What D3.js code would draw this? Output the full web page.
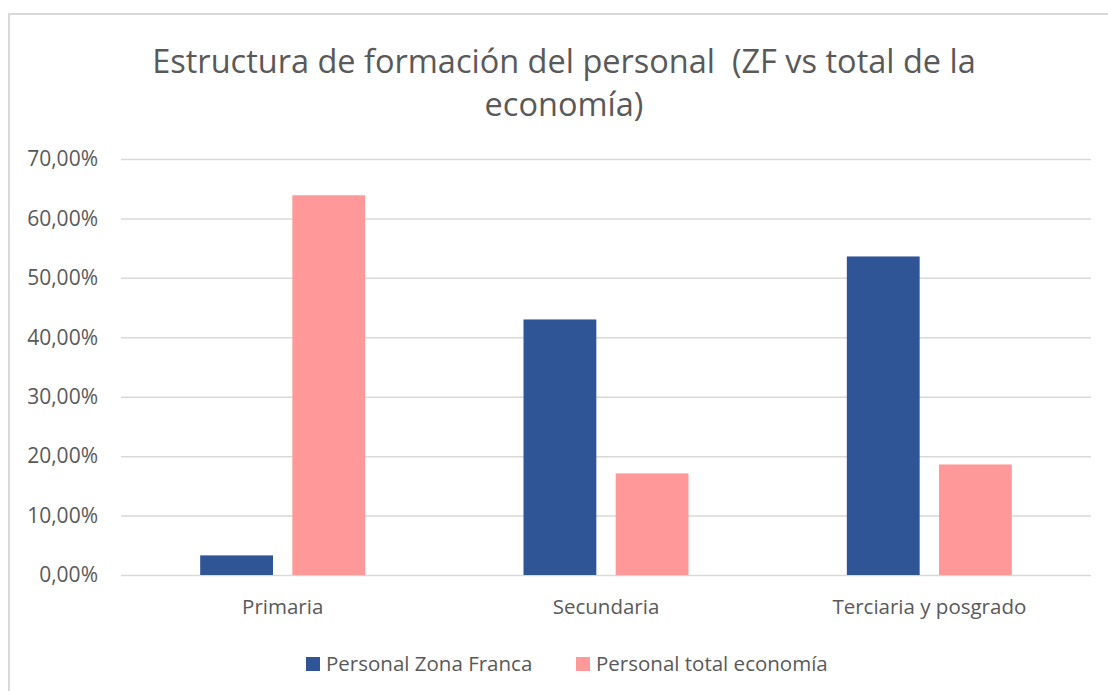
<!DOCTYPE html>
<html>
<head>
<meta charset="utf-8">
<script src="https://cdn.jsdelivr.net/npm/d3@7"></script>
<style>
    html, body { margin: 0; padding: 0; background: #fff; }
    svg text { font-family: "Open Sans", "Noto Sans", sans-serif; fill: #595959; }
</style>
</head>
<body>
<svg id="chart" width="1108" height="691"></svg>
<script>
"use strict";

var titleLines = ["Estructura de formación del personal  (ZF vs total de la",
        "economía)"];
var categories = ["Primaria", "Secundaria", "Terciaria y posgrado"];
var seriesNames = ["Personal Zona Franca", "Personal total economía"];
var zonaFranca = [0.033, 0.430, 0.536];
var totalEconomia = [0.639, 0.171, 0.186];
var yTicks = [0, 0.1, 0.2, 0.3, 0.4, 0.5, 0.6, 0.7];
var colors = ["#2f5597", "#ff9999"];

var svg = d3.select("#chart");
var margin = {top: 159, left: 121, bottom: 116, right: 17}; // px
var width = 1108 - margin.left - margin.right;
var height = 691 - margin.top - margin.bottom;

// frame (top and left edges only are visible)
svg.append("path")
    .attr("d", "M9,691V14H1108")
    .attr("fill", "none")
    .attr("stroke", "#d9d9d9")
    .attr("stroke-width", 2);

svg.selectAll("text.title")
    .data(titleLines)
    .enter()
    .append("text")
    .attr("class", "title")
    .attr("x", 564)
    .attr("y", function (d, i) {
        return 73 + i * 43;
    })
    .attr("text-anchor", "middle")
    .style("font-size", "32.5px")
    .style("white-space", "pre")
    .text(function (d) {
        return d;
    });

var g = svg.append("g")
    .attr("transform", "translate(" + margin.left + "," + margin.top + ")");

var y = d3.scaleLinear().domain([0, 0.7]).range([height, 0]);
var x0 = d3.scaleBand().domain(categories).range([0, width]);
var x1 = d3.scaleBand()
    .domain(seriesNames)
    .range([x0.bandwidth() / 2 - 82.5, x0.bandwidth() / 2 + 82.5])
    .paddingInner(0.21);

var fmt = function (v) {
    return d3.format(".2f")(v * 100).replace(".", ",") + "%";
};

var yAxis = d3.axisLeft(y)
    .tickValues(yTicks)
    .tickSize(-width)
    .tickFormat(fmt);
var yAxisGroup = g.append("g").call(yAxis);
yAxisGroup.select(".domain").remove();
yAxisGroup.selectAll(".tick line")
    .attr("stroke", "#d9d9d9")
    .attr("stroke-width", 1.5);
yAxisGroup.selectAll(".tick text")
    .attr("x", -23)
    .style("font-size", "21px")
    .style("fill", "#595959");

var xAxis = d3.axisBottom(x0).tickSize(0).tickPadding(24);
var xAxisGroup = g.append("g")
    .attr("transform", "translate(0," + height + ")")
    .call(xAxis);
xAxisGroup.select(".domain").remove();
xAxisGroup.selectAll(".tick text")
    .style("font-size", "20.5px")
    .style("fill", "#595959");

var rows = categories.map(function (c, i) {
    return {category: c, values: [zonaFranca[i], totalEconomia[i]]};
});

g.selectAll("g.group")
    .data(rows)
    .enter()
    .append("g")
    .attr("class", "group")
    .attr("transform", function (d) {
        return "translate(" + x0(d.category) + ",0)";
    })
    .selectAll("rect")
    .data(function (d) {
        return d.values.map(function (v, i) {
            return {name: seriesNames[i], value: v, color: colors[i]};
        });
    })
    .enter()
    .append("rect")
    .attr("x", function (d) {
        return x1(d.name);
    })
    .attr("width", x1.bandwidth())
    .attr("y", function (d) {
        return y(d.value);
    })
    .attr("height", function (d) {
        return height - y(d.value);
    })
    .attr("fill", function (d) {
        return d.color;
    });

// legend
var legendX = [306, 576];
var legend = svg.selectAll("g.legend")
    .data(seriesNames)
    .enter()
    .append("g")
    .attr("class", "legend")
    .attr("transform", function (d, i) {
        return "translate(" + legendX[i] + ",657)";
    });
legend.append("rect")
    .attr("width", 14)
    .attr("height", 14)
    .attr("fill", function (d, i) {
        return colors[i];
    });
legend.append("text")
    .attr("x", 20)
    .attr("y", 14)
    .style("font-size", "20.5px")
    .text(function (d) {
        return d;
    });
</script>
</body>
</html>
